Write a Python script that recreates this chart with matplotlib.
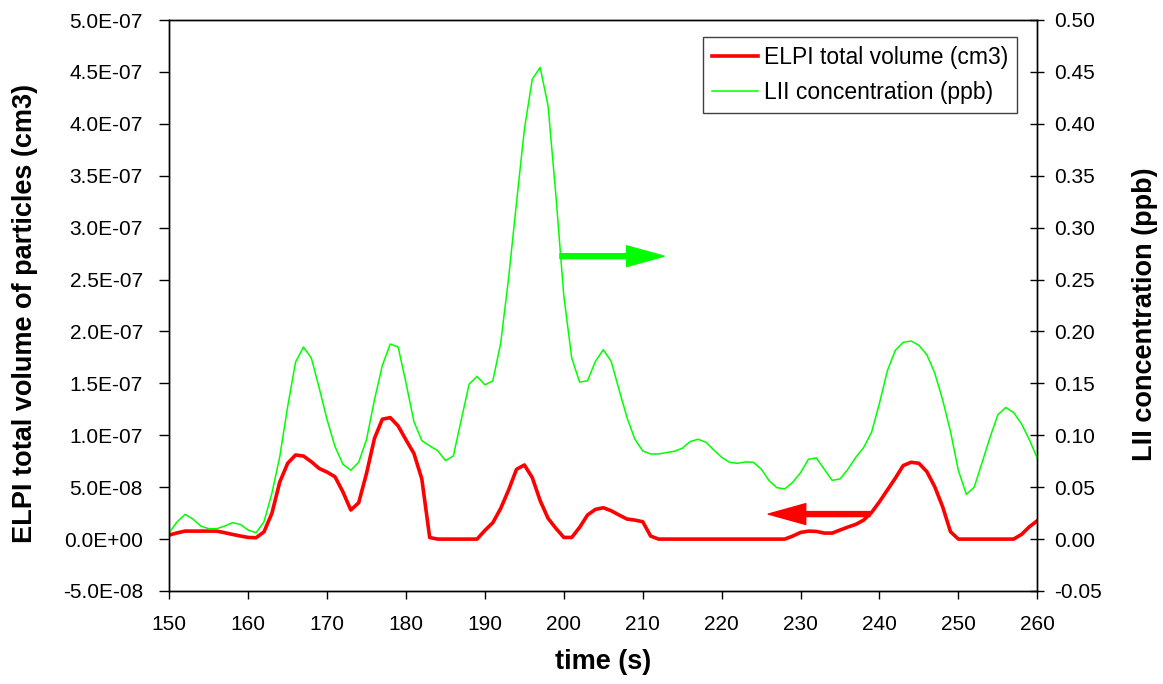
import matplotlib
matplotlib.use("Agg")
import matplotlib.pyplot as plt
from matplotlib.ticker import FuncFormatter, MultipleLocator
import numpy as np

plt.rcParams["font.family"] = ["Liberation Sans", "DejaVu Sans"]

# time axis, one sample per second
time_s = np.arange(150, 261)

# ELPI total volume, in units of 1e-8 cm3
elpi_e8 = [0.39, 0.6, 0.77, 0.77, 0.77, 0.77, 0.77, 0.62, 0.45, 0.3,
           0.16, 0.13, 0.7, 2.48, 5.5, 7.3, 8.1, 8.0, 7.45, 6.8,
           6.45, 6.0, 4.55, 2.8, 3.5, 6.35, 9.7, 11.55, 11.7, 10.9,
           9.55, 8.25, 5.8, 0.15,
           0, 0, 0, 0, 0, 0,
           0.84, 1.58, 2.96, 4.73, 6.72, 7.14, 5.92, 3.7, 2.0, 1.03,
           0.16, 0.16, 1.13, 2.32, 2.86, 3.02, 2.73, 2.32, 1.93, 1.83,
           1.67, 0.29,
           0, 0, 0, 0, 0, 0, 0, 0, 0, 0, 0, 0, 0, 0, 0, 0, 0,
           0.29, 0.64, 0.77, 0.74, 0.58, 0.58, 0.87, 1.16, 1.42, 1.83,
           2.57, 3.6, 4.73, 5.86, 7.08, 7.4, 7.3, 6.5, 5.05, 3.12,
           0.71,
           0, 0, 0, 0, 0, 0, 0, 0,
           0.45, 1.19, 1.77]

# LII concentration (ppb)
lii_ppb = [0.0064, 0.0167, 0.0238, 0.0193, 0.0125, 0.0100, 0.0100, 0.0125, 0.0158, 0.0141,
           0.0087, 0.0061, 0.0167, 0.0441, 0.0795, 0.1277, 0.1705, 0.1850, 0.1744, 0.1454,
           0.1149, 0.0891, 0.0721, 0.0663, 0.0740, 0.0962, 0.1342, 0.1673, 0.1879, 0.1850,
           0.1503, 0.1132, 0.0949, 0.0898, 0.0852, 0.0756, 0.0801, 0.1149, 0.1493, 0.1567,
           0.1486, 0.1525, 0.1889, 0.2516, 0.3240, 0.3948, 0.4430, 0.4543, 0.4173, 0.3304,
           0.2339, 0.1744, 0.1512, 0.1525, 0.1712, 0.1824, 0.1712, 0.1438, 0.1171, 0.0962,
           0.0849, 0.0820, 0.0820, 0.0833, 0.0846, 0.0875, 0.0939, 0.0962, 0.0933, 0.0859,
           0.0788, 0.0740, 0.0730, 0.0743, 0.0740, 0.0676, 0.0563, 0.0495, 0.0483, 0.0547,
           0.0640, 0.0769, 0.0782, 0.0673, 0.0566, 0.0579, 0.0673, 0.0788, 0.0882, 0.1030,
           0.1310, 0.1622, 0.1818, 0.1895, 0.1908, 0.1866, 0.1776, 0.1600, 0.1342, 0.1036,
           0.0660, 0.0431, 0.0499, 0.0737, 0.0978, 0.1197, 0.1268, 0.1219, 0.1110, 0.0956,
           0.0779]

elpi = np.array(elpi_e8) * 1e-8

fig = plt.figure(figsize=(11.63, 6.84), dpi=100)
ax = fig.add_axes([169.3 / 1163, 1 - 591 / 684, 868 / 1163, 571 / 684])
ax2 = ax.twinx()

l1, = ax.plot(time_s, elpi, color="#ff0000", lw=2.6, label="ELPI total volume (cm3)")
l2, = ax2.plot(time_s, lii_ppb, color="#00ff00", lw=1.1, label="LII concentration (ppb)")

ax.set_xlim(150, 260)
ax.set_ylim(-5e-8, 5e-7)
ax2.set_ylim(-0.05, 0.5)
ax.xaxis.set_major_locator(MultipleLocator(10))
ax.yaxis.set_major_locator(MultipleLocator(5e-8))
ax2.yaxis.set_major_locator(MultipleLocator(0.05))
ax.yaxis.set_major_formatter(FuncFormatter(lambda v, p: f"{v:.1E}"))
ax2.yaxis.set_major_formatter(FuncFormatter(lambda v, p: f"{round(v, 2):.2f}"))

ax.tick_params(axis="y", labelsize=15, length=7, width=1, direction="out", pad=12)
ax.tick_params(axis="x", labelsize=15, length=6, width=1, direction="out", pad=11)
ax2.tick_params(axis="y", labelsize=15, length=10, width=1, direction="inout", pad=7)
for a in (ax, ax2):
    for s in a.spines.values():
        s.set_linewidth(1)

# arrows pointing at the axis each curve belongs to
ax2.annotate("", xy=(212.7, 0.2725), xytext=(199.5, 0.2725),
             arrowprops=dict(color="#00ff00", width=3.6, headwidth=15, headlength=27, shrink=0))
ax.annotate("", xy=(225.9, 2.41e-8), xytext=(238.8, 2.41e-8),
            arrowprops=dict(color="#ff0000", width=3.6, headwidth=15, headlength=27, shrink=0))

leg = ax2.legend(handles=[l1, l2], loc="upper right", bbox_to_anchor=(0.977, 0.97),
                 borderaxespad=0, fontsize=16.5, handlelength=2.0, handletextpad=0.25,
                 labelspacing=0.5, fancybox=False, framealpha=1, borderpad=0.4)
leg.get_frame().set_edgecolor("#404040")
leg.get_frame().set_linewidth(1)

fig.text(603 / 1163, 1 - 662 / 684, "time (s)", ha="center", va="center",
         fontsize=19.5, fontweight="bold")
fig.text(25 / 1163, 1 - 313 / 684, "ELPI total volume of particles (cm3)", ha="center",
         va="center", rotation=90, fontsize=19.5, fontweight="bold")
fig.text(1145 / 1163, 1 - 314 / 684, "LII concentration (ppb)", ha="center",
         va="center", rotation=90, fontsize=19.5, fontweight="bold")

fig.savefig("out.png", dpi=100)
